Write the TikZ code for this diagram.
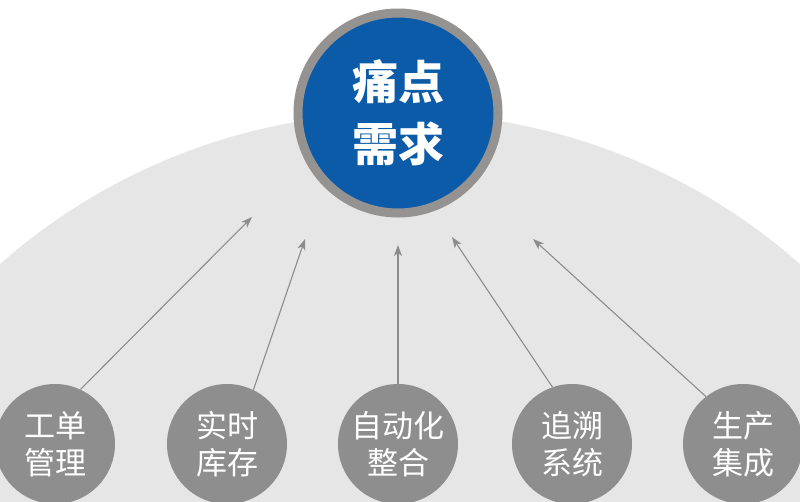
\documentclass[tikz,border=0pt]{standalone}
\usepackage{fontspec}
\newfontfamily\cjk{Noto Sans CJK SC}
\usetikzlibrary{arrows.meta}
\definecolor{bgdisk}{HTML}{E6E6E6}
\definecolor{hubblue}{HTML}{0C5BA8}
\definecolor{ringgray}{HTML}{959391}
\definecolor{leafgray}{HTML}{8E8E8E}
\definecolor{arrgray}{HTML}{8C8C8C}
\tikzset{
  hub/.style={circle, fill=hubblue, draw=ringgray, line width=9pt, minimum size=200pt, inner sep=0pt,
    text=white, align=center, font=\cjk\bfseries\fontsize{46pt}{62pt}\selectfont},
  leaf/.style={circle, fill=leafgray, minimum size=120pt, inner sep=0pt,
    text=white, align=center, font=\cjk\fontsize{31pt}{37pt}\selectfont},
  arr/.style={draw=arrgray, line width=1.1pt, -{Stealth[length=11pt,width=8pt,inset=3pt]}}
}
\begin{document}
\begin{tikzpicture}[x=1pt,y=-1pt]
\useasboundingbox (0,0) rectangle (800,501);
\clip (0,0) rectangle (800,501);
\fill[white] (0,0) rectangle (800,501);
\fill[bgdisk] (400,718) circle[radius=605pt];
\node[hub] (hub) at (398,113) {痛点\\需求};
\node[leaf] (c1) at (55,444) {工单\\管理};
\node[leaf] (c2) at (227,444) {实时\\库存};
\node[leaf] (c3) at (398,444) {自动化\\整合};
\node[leaf] (c4) at (572,444) {追溯\\系统};
\node[leaf] (c5) at (743,444) {生产\\集成};
\coordinate (t1) at (252,217);
\coordinate (t2) at (305,239);
\coordinate (t3) at (398,245);
\coordinate (t4) at (452,237);
\coordinate (t5) at (533,239);
\draw[arr] (c1.65) -- (t1);
\draw[arr] (c2.64) -- (t2);
\draw[arr] (c3.90) -- (t3);
\draw[arr] (c4.109) -- (t4);
\draw[arr] (c5.128) -- (t5);
\end{tikzpicture}
\end{document}
